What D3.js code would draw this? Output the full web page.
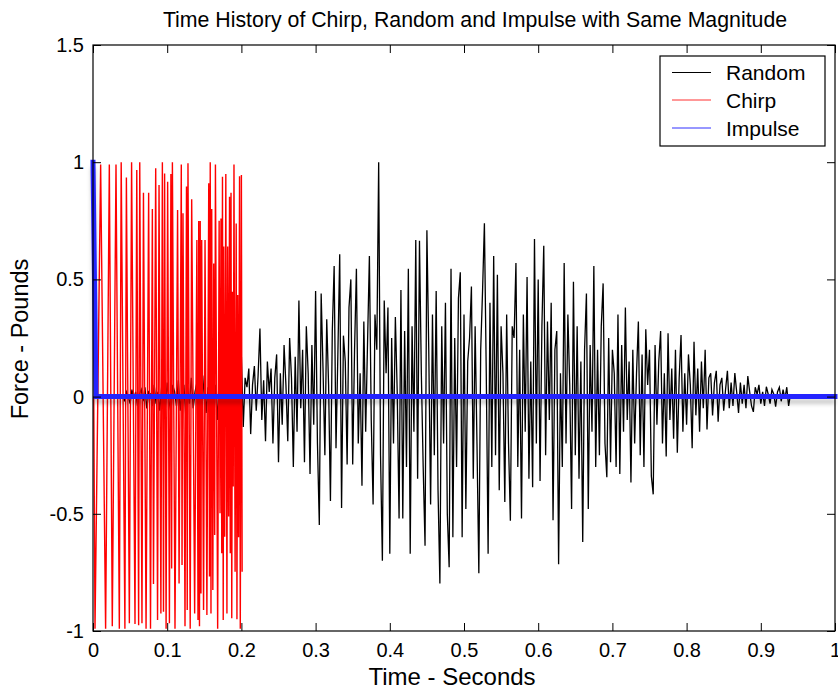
<!DOCTYPE html>
<html>
<head>
<meta charset="utf-8">
<script src="https://cdn.jsdelivr.net/npm/d3@7/dist/d3.min.js"></script>
<style>
  html, body { margin: 0; padding: 0; background: #fff; }
  svg { display: block; }
  text { font-family: "Liberation Sans", Arial, Helvetica, sans-serif; fill: #000; }
</style>
</head>
<body>
<svg id="chart" width="838" height="691"></svg>
<script>
// ---------------- DATA ----------------
const title = "Time History of Chirp, Random and Impulse with Same Magnitude";
const xLabel = "Time - Seconds";
const yLabel = "Force - Pounds";
const seriesNames = ["Random", "Chirp", "Impulse"];

const xTicks = [0, 0.1, 0.2, 0.3, 0.4, 0.5, 0.6, 0.7, 0.8, 0.9, 1];
const xTickLabels = ["0", "0.1", "0.2", "0.3", "0.4", "0.5", "0.6", "0.7", "0.8", "0.9", "1"];
const yTicks = [-1, -0.5, 0, 0.5, 1, 1.5];
const yTickLabels = ["-1", "-0.5", "0", "0.5", "1", "1.5"];

// Random: samples starting at randomStart, spaced randomStep seconds
const randomStart = 0.04;
const randomStep = 0.0025;
const randomValues = [
  0.01,-0.02,0.02,0.00,-0.03,0.03,-0.01,0.02,-0.04,0.01,
  0.03,-0.02,0.04,-0.05,0.02,0.01,-0.04,0.05,-0.03,0.02,
  -0.06,0.04,0.03,-0.05,0.06,-0.02,-0.07,0.05,0.02,-0.04,
  0.07,-0.06,0.03,0.05,-0.08,0.04,-0.03,0.08,-0.05,0.02,
  0.06,-0.09,0.05,-0.02,0.09,-0.07,0.04,-0.08,0.10,-0.03,
  0.05,-0.10,0.07,-0.04,0.11,-0.08,0.03,-0.11,0.08,0.10,
  -0.09,0.12,-0.05,0.06,0.17,-0.13,0.08,0.04,0.12,-0.16,
  0.05,0.13,-0.06,0.09,0.29,-0.10,0.07,-0.19,0.15,0.02,
  0.12,-0.20,0.08,0.18,-0.28,0.10,-0.12,0.22,0.05,-0.19,
  0.25,0.08,-0.30,0.17,-0.15,0.41,-0.05,0.20,-0.28,0.30,
  0.10,-0.33,0.22,-0.12,0.45,-0.20,-0.548,0.44,0.12,-0.25,
  0.33,0.05,-0.445,0.28,0.557,-0.22,0.18,0.607,-0.475,0.26,
  0.15,-0.29,0.38,0.50,-0.29,0.20,0.545,-0.20,0.10,-0.38,
  0.32,-0.15,0.23,0.60,-0.10,-0.46,0.35,0.20,1.00,-0.25,
  -0.70,0.41,0.10,0.38,-0.67,0.25,-0.20,0.34,0.02,-0.52,
  0.455,-0.52,0.28,-0.30,0.545,-0.67,0.30,-0.15,0.668,-0.35,
  0.665,0.10,-0.30,-0.636,0.71,0.20,-0.46,0.35,-0.25,0.45,
  -0.40,-0.797,0.30,-0.20,0.40,-0.50,-0.728,0.545,-0.60,0.25,
  -0.30,0.42,0.53,-0.60,0.35,-0.48,0.15,0.25,0.47,-0.35,
  0.30,-0.20,-0.754,0.20,0.45,0.74,0.10,-0.67,0.40,-0.30,
  0.60,-0.25,0.52,-0.40,0.30,0.10,-0.45,0.35,-0.20,-0.53,
  0.30,0.25,0.57,-0.30,0.20,-0.52,0.35,-0.15,0.51,-0.35,
  0.15,-0.387,0.672,-0.20,0.50,-0.36,0.30,0.644,-0.25,0.32,
  -0.10,0.40,-0.527,0.20,0.28,-0.715,0.10,-0.30,0.57,-0.20,
  0.35,0.05,-0.48,0.49,-0.25,0.30,-0.35,0.15,-0.62,0.20,
  0.44,-0.48,0.22,-0.15,0.557,-0.30,0.20,-0.25,0.30,0.483,
  -0.20,-0.344,0.25,-0.28,0.20,0.10,-0.30,0.35,-0.33,0.22,
  -0.15,0.38,-0.10,0.15,-0.366,0.20,-0.20,0.10,0.32,-0.25,
  0.18,-0.30,0.287,0.05,0.20,-0.34,-0.417,0.22,-0.12,0.15,
  0.28,-0.20,0.10,-0.256,0.27,-0.10,0.12,-0.18,0.20,-0.24,
  0.08,0.263,-0.15,0.10,-0.12,0.18,0.05,-0.22,0.234,-0.08,
  0.12,-0.15,0.15,-0.05,0.20,-0.14,0.08,0.10,-0.08,0.06,
  0.11,-0.107,0.05,0.08,-0.06,0.03,0.11,-0.05,0.06,-0.04,
  0.10,0.02,-0.07,0.06,-0.03,0.05,-0.05,0.088,0.02,-0.04,
  -0.065,0.04,0.01,0.05,-0.03,0.02,-0.04,0.042,0.01,-0.03,
  0.03,0.01,-0.043,0.02,0.04,-0.02,0.03,-0.01,0.04,-0.04,
  0.01
];

// Chirp: sample times and values
const chirpTimes = [
  0.0010,0.0027,0.0103,0.0170,0.0220,0.0260,0.0310,0.0355,0.0380,0.0430,
  0.0450,0.0490,0.0520,0.0566,0.0590,0.0615,0.0630,0.0660,0.0680,0.0715,
  0.0750,0.0775,0.0800,0.0815,0.0845,0.0870,0.0890,0.0915,0.0935,0.0950,
  0.0965,0.0985,0.1006,0.1030,0.1050,0.1060,0.1070,0.1105,0.1140,0.1160,
  0.1190,0.1200,0.1213,0.1240,0.1260,0.1270,0.1280,0.1310,0.1330,0.1370,
  0.1400,0.1415,0.1425,0.1435,0.1445,0.1455,0.1465,0.1490,0.1510,0.1535,
  0.1560,0.1570,0.1580,0.1590,0.1600,0.1615,0.1627,0.1640,0.1650,0.1680,
  0.1700,0.1712,0.1725,0.1735,0.1745,0.1755,0.1762,0.1775,0.1790,0.1805,
  0.1815,0.1828,0.1840,0.1850,0.1860,0.1870,0.1880,0.1890,0.1900,0.1915,
  0.1930,0.1940,0.1950,0.1962,0.1975,0.1985,0.2000,0.2010
];
const chirpValues = [
  0.00,-0.99,0.99,-0.99,0.99,-0.98,0.99,-0.99,1.00,-0.99,
  0.935,-0.967,1.00,-0.97,0.967,-0.975,1.00,-0.967,0.87,-0.99,
  0.87,-0.99,0.80,-0.80,0.974,-0.953,0.903,-0.925,1.00,-0.918,
  0.952,-0.99,0.917,-0.967,0.95,-0.733,1.00,-0.99,0.796,-0.797,
  0.99,-0.718,0.782,-0.98,0.896,-0.91,0.995,-0.99,0.842,-0.925,
  0.668,-0.953,0.749,-0.98,0.749,-0.84,0.668,-0.91,0.668,-0.932,
  0.91,-0.768,1.00,-0.925,0.80,-0.825,0.568,-0.59,0.99,-0.99,
  0.75,-0.498,0.76,-0.668,0.938,-0.953,0.64,-0.598,0.95,-0.925,
  0.64,-0.512,0.853,-0.668,0.87,-0.946,0.447,-0.384,0.99,-0.747,
  0.739,-0.95,0.433,-0.60,0.94,-0.99,0.945,-0.747
];

// Impulse
const impulseTimes = [0, 0.004, 1];
const impulseValues = [1, 0, 0];

// ---------------- LAYOUT ----------------
const svg = d3.select("#chart");
const L = 93, R = 835, T = 45, B = 631;

const x = d3.scaleLinear().domain([0, 1]).range([L, R]);
const y = d3.scaleLinear().domain([-1, 1.5]).range([B, T]);

const randomData = randomValues.map((v, i) => [randomStart + i * randomStep, v]);
const chirpData = chirpTimes.map((t, i) => [t, chirpValues[i]]);
const impulseData = impulseTimes.map((t, i) => [t, impulseValues[i]]);

const line = d3.line().x(d => x(d[0])).y(d => y(d[1]));

const defs = svg.append("defs");
defs.append("filter").attr("id", "blur").attr("x", "-5%").attr("y", "-50%").attr("width", "110%").attr("height", "300%")
  .append("feGaussianBlur").attr("stdDeviation", 2);

svg.append("rect").attr("x", 0).attr("y", 0).attr("width", 838).attr("height", 691).attr("fill", "#fff");

// Series
svg.append("path").datum(randomData).attr("d", line)
  .attr("fill", "none").attr("stroke", "#000").attr("stroke-width", 1.3);
svg.append("path").datum(chirpData).attr("d", line)
  .attr("fill", "none").attr("stroke", "#ff0000").attr("stroke-width", 1.4);

// impulse shadow
svg.append("path").datum(impulseData).attr("d", line)
  .attr("transform", "translate(0,5)")
  .attr("fill", "none").attr("stroke", "#000").attr("stroke-opacity", 0.25)
  .attr("stroke-width", 4).attr("filter", "url(#blur)");
svg.append("path").datum(impulseData).attr("d", line)
  .attr("fill", "none").attr("stroke", "#2424ff").attr("stroke-width", 5)
  .attr("stroke-linecap", "square").attr("stroke-linejoin", "miter");

// Axes
const fmtX = (d, i) => xTickLabels[i];
const fmtY = (d, i) => yTickLabels[i];

const gB = svg.append("g").attr("transform", `translate(0,${B})`)
  .call(d3.axisBottom(x).tickValues(xTicks).tickFormat(fmtX).tickSizeInner(-8).tickSizeOuter(0).tickPadding(12));
const gL = svg.append("g").attr("transform", `translate(${L},0)`)
  .call(d3.axisLeft(y).tickValues(yTicks).tickFormat(fmtY).tickSizeInner(-8).tickSizeOuter(0).tickPadding(9));
const gT = svg.append("g").attr("transform", `translate(0,${T})`)
  .call(d3.axisTop(x).tickValues(xTicks).tickFormat("").tickSizeInner(-8).tickSizeOuter(0));
const gR = svg.append("g").attr("transform", `translate(${R},0)`)
  .call(d3.axisRight(y).tickValues(yTicks).tickFormat("").tickSizeInner(-8).tickSizeOuter(0));

[gB, gL, gT, gR].forEach(g => {
  g.select(".domain").remove();
  g.selectAll(".tick line").attr("stroke", "#000").attr("stroke-width", 1);
  g.selectAll("text").attr("font-size", 20).attr("font-family", "'Liberation Sans', Arial, sans-serif").attr("fill", "#000");
});

svg.append("rect").attr("x", L).attr("y", T).attr("width", R - L).attr("height", B - T)
  .attr("fill", "none").attr("stroke", "#000").attr("stroke-width", 1.2);

// Title and labels
svg.append("text").attr("x", 475).attr("y", 27).attr("text-anchor", "middle")
  .attr("font-size", 21.3).text(title);
svg.append("text").attr("x", 452).attr("y", 685).attr("text-anchor", "middle")
  .attr("font-size", 24).text(xLabel);
svg.append("text").attr("transform", "translate(28,339) rotate(-90)").attr("text-anchor", "middle")
  .attr("font-size", 23.5).text(yLabel);

// Legend
const lg = svg.append("g");
lg.append("rect").attr("x", 660).attr("y", 56).attr("width", 165).attr("height", 90)
  .attr("fill", "#fff").attr("stroke", "#000").attr("stroke-width", 1.2);
const legendColors = ["#000", "#ff3030", "#3030ff"];
const legendY = [72.5, 100, 128];
seriesNames.forEach((name, i) => {
  lg.append("line").attr("x1", 672).attr("x2", 711).attr("y1", legendY[i]).attr("y2", legendY[i])
    .attr("stroke", legendColors[i]).attr("stroke-width", 1);
  lg.append("text").attr("x", 726).attr("y", legendY[i] + 7.5).attr("font-size", 21).text(name);
});
</script>
</body>
</html>
